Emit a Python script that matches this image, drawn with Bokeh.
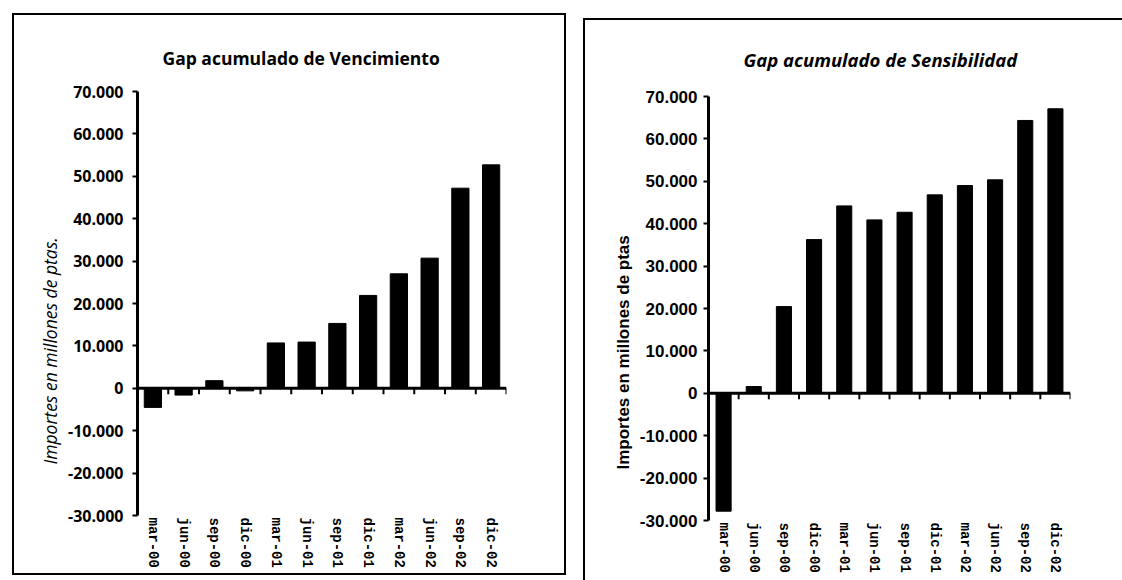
import math
from bokeh.plotting import figure
from bokeh.models import Range1d, FixedTicker, ColumnDataSource, Span, Title
from bokeh.layouts import row
from bokeh.embed import file_html
from bokeh.resources import INLINE

categories = ["mar-00", "jun-00", "sep-00", "dic-00", "mar-01", "jun-01",
              "sep-01", "dic-01", "mar-02", "jun-02", "sep-02", "dic-02"]
vencimiento = [-4500, -1600, 1800, -600, 10700, 10900, 15300, 21900,
               27000, 30700, 47200, 52700]
sensibilidad = [-27800, 1600, 20450, 36250, 44200, 40900, 42700, 46800,
                49000, 50350, 64350, 67100]
y_ticks = [-30000, -20000, -10000, 0, 10000, 20000, 30000, 40000, 50000, 60000, 70000]
y_tick_labels = ["-30.000", "-20.000", "-10.000", "0", "10.000", "20.000",
                 "30.000", "40.000", "50.000", "60.000", "70.000"]

title_left = "Gap acumulado de Vencimiento"
title_right = "Gap acumulado de Sensibilidad"
ylabel_left = "Importes en millones de ptas."
ylabel_right = "Importes en millones de ptas"


def make_chart(values, title, ylabel, w, h, by, mbl, mbr, mbt, mbb, bar_w,
               title_style, title_size, title_offset, title_standoff,
               tick_font, tick_size, tick_standoff,
               ylab_font, ylab_style, ylab_size, ylab_offset, ylab_gap,
               margin, styles):
    n = len(categories)
    ymin, ymax = y_ticks[0], y_ticks[-1]
    p = figure(width=w, height=h, x_range=Range1d(0, n),
               y_range=Range1d(ymin, ymax),
               output_backend="svg", toolbar_location=None,
               min_border_left=mbl, min_border_right=mbr,
               min_border_top=mbt, min_border_bottom=mbb,
               margin=margin, styles=styles)
    p.outline_line_color = None
    p.grid.visible = False
    p.background_fill_color = "white"
    p.border_fill_color = "white"

    frame_h = h - by - mbt - mbb

    centers = [i + 0.5 for i in range(n)]
    src = ColumnDataSource(dict(x=centers, top=values, cat=categories))
    p.vbar(x="x", top="top", bottom=0, width=bar_w, source=src,
           fill_color="black", line_color="black")

    # zero line with downward ticks at category boundaries
    p.add_layout(Span(location=0, dimension="width", line_color="black", line_width=3))
    tick_len = (ymax - ymin) / frame_h * 6
    bounds = list(range(1, n + 1))
    p.segment(x0=bounds, x1=bounds, y0=[0] * n, y1=[-tick_len] * n,
              line_color="black", line_width=2)

    xa = p.xaxis[0]
    xa.ticker = FixedTicker(ticks=centers)
    xa.major_label_overrides = {c: lab for c, lab in zip(centers, categories)}
    xa.major_label_orientation = "vertical"
    xa.axis_line_color = None
    xa.major_tick_line_color = None
    xa.minor_tick_line_color = None
    xa.major_tick_out = 0
    xa.major_tick_in = 0
    xa.major_label_standoff = 2
    xa.major_label_text_font = "Liberation Mono"
    xa.major_label_text_font_style = "bold"
    xa.major_label_text_font_size = "14px"
    xa.major_label_text_color = "black"

    ya = p.yaxis[0]
    ya.ticker = FixedTicker(ticks=y_ticks)
    ya.major_label_overrides = {t: lab for t, lab in zip(y_ticks, y_tick_labels)}
    ya.axis_line_width = 3
    ya.axis_line_color = "black"
    ya.major_tick_line_width = 2
    ya.major_tick_out = 5
    ya.major_tick_in = 0
    ya.minor_tick_line_color = None
    ya.major_label_standoff = tick_standoff
    ya.major_label_text_font = tick_font
    ya.major_label_text_font_style = "bold"
    ya.major_label_text_font_size = tick_size
    ya.major_label_text_color = "black"

    # vertical axis title, kept apart from the tick labels by extra padding
    yt = Title(text=ylabel, align="left", offset=ylab_offset,
               vertical_align="bottom", standoff=8,
               text_font=ylab_font, text_font_style=ylab_style,
               text_font_size=ylab_size, text_color="black")
    if "padding" in yt.properties():
        yt.padding = (0, 0, ylab_gap, 0)
    p.add_layout(yt, "left")

    p.title.text = title
    p.title.align = "left"
    p.title.offset = title_offset
    p.title.standoff = title_standoff
    p.title.text_font = "Open Sans"
    p.title.text_font_style = title_style
    p.title.text_font_size = title_size
    p.title.text_color = "black"
    return p


p1 = make_chart(vencimiento, title_left, ylabel_left, 554, 562, 4, 123, 62, 75, 59, 0.56,
                "bold", "17.5px", 25, 44,
                "Open Sans", "16px", 9,
                "Open Sans", "italic", "17.5px", 51, 19,
                (13, 0, 0, 12), {"border": "2px solid black"})

p2 = make_chart(sensibilidad, title_right, ylabel_right, 539, 562, 2, 123, 54, 75, 62, 0.5,
                "bold italic", "18.5px", 35, 49,
                "Liberation Sans", "17px", 6,
                "Liberation Sans", "bold", "17px", 51, 26,
                (18, 0, 0, 17),
                {"border-left": "2px solid black", "border-top": "2px solid black"})

layout = row(p1, p2)
open("out.html", "w").write(file_html(layout, INLINE))
